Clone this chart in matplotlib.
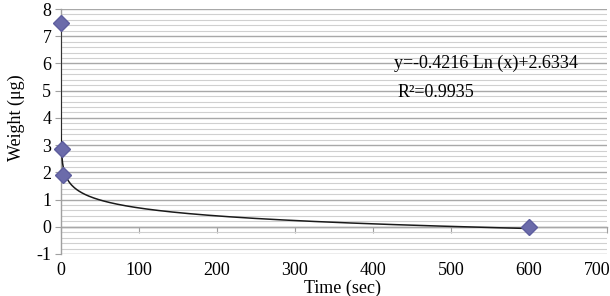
import numpy as np
import matplotlib
matplotlib.use("Agg")
import matplotlib.pyplot as plt
import matplotlib.transforms as mtransforms
from matplotlib.ticker import MultipleLocator

plt.rcParams['font.family'] = ['Liberation Serif', 'DejaVu Serif']
plt.rcParams['axes.unicode_minus'] = False

# data points (time in sec, weight in µg)
time_sec = [0, 1, 2, 600]
weight_ug = [7.5, 2.85, 1.9, 0.0]

# logarithmic trendline coefficients (as shown on the chart)
fit_a = -0.4216
fit_b = 2.6334
eq_text = "y=-0.4216 Ln (x)+2.6334"
r2_text = "R\u00b2=0.9935"

xticks = [0, 100, 200, 300, 400, 500, 600, 700]
yticks = [-1, 0, 1, 2, 3, 4, 5, 6, 7, 8]

fig = plt.figure(figsize=(6.10, 2.96), dpi=100)
ax = fig.add_axes([61/610, 1-254/296, (607-61)/610, (254-9)/296])

# trendline
xs = np.concatenate([np.logspace(-5, 0, 400), np.linspace(1, 600, 600)])
ys = fit_a * np.log(xs) + fit_b
ax.plot(xs, ys, color='#1a1a1a', lw=1.1, zorder=3)

ax.plot(time_sec, weight_ug, linestyle='none', marker='D', ms=8,
        color='#6b6baa', markeredgecolor='#5e5e9e', zorder=4, clip_on=False)

ax.set_xlim(0, 700)
ax.set_ylim(-1, 8)
ax.set_xticks(xticks)
ax.set_yticks(yticks)
ax.yaxis.set_minor_locator(MultipleLocator(0.2))
ax.grid(axis='y', which='major', color='#a8a8a8', lw=1.0)
ax.grid(axis='y', which='minor', color='#d0d0d0', lw=0.8)
ax.set_axisbelow(True)

for s in ['top', 'right', 'bottom']:
    ax.spines[s].set_visible(False)
ax.spines['left'].set_color('#a0a0a0')
ax.spines['left'].set_linewidth(1.0)

ax.tick_params(axis='y', which='major', length=4, color='#a0a0a0', labelsize=13, pad=3)
ax.tick_params(axis='y', which='minor', length=0)
ax.tick_params(axis='x', length=0, labelsize=13, pad=6)

# shift the last x tick label left so it stays inside the figure
last = ax.get_xticklabels()[-1]
last.set_transform(last.get_transform() +
                   mtransforms.ScaledTranslation(-10/100, 0, fig.dpi_scale_trans))

# horizontal axis line crossing at y=0 with tick marks
sec = ax.secondary_xaxis(1/9)
sec.set_xticks(xticks)
sec.tick_params(axis='x', direction='out', length=4, color='#a0a0a0', labelbottom=False, labeltop=False)
sec.spines['bottom'].set_color('#a0a0a0')
sec.spines['bottom'].set_linewidth(1.0)

ax.set_xlabel("Time (sec)", fontsize=13)
ax.xaxis.set_label_coords(0.515, -0.103)
ax.set_ylabel("Weight (μg)", fontsize=13)
ax.yaxis.set_label_coords(-0.066, 0.555)

ax.text(545, 6.02, eq_text, fontsize=13, ha='center', va='center')
ax.text(480, 4.94, r2_text, fontsize=13, ha='center', va='center')

fig.savefig("out.png", dpi=100)
